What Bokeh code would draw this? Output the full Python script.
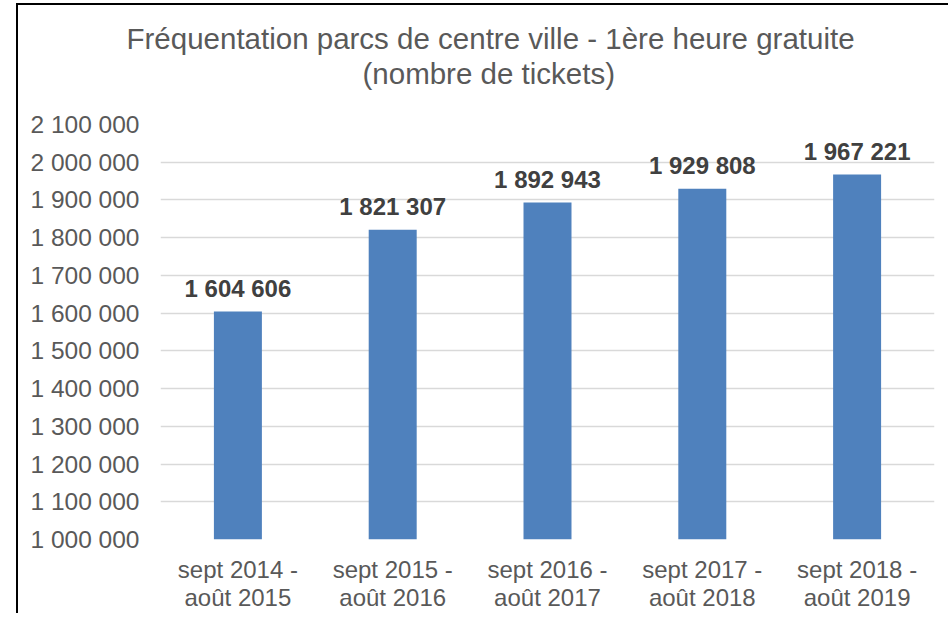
from bokeh.plotting import figure
from bokeh.models import FixedTicker, ColumnDataSource, Title
from bokeh.core.properties import value
from bokeh.embed import file_html
from bokeh.resources import INLINE

# ---- data ----
periods = [
    "sept 2014 -\naoût 2015",
    "sept 2015 -\naoût 2016",
    "sept 2016 -\naoût 2017",
    "sept 2017 -\naoût 2018",
    "sept 2018 -\naoût 2019",
]
tickets = [1604606, 1821307, 1892943, 1929808, 1967221]
value_labels = ["1 604 606", "1 821 307", "1 892 943", "1 929 808", "1 967 221"]
y_ticks = [1000000, 1100000, 1200000, 1300000, 1400000, 1500000,
           1600000, 1700000, 1800000, 1900000, 2000000, 2100000]
y_tick_labels = ["1 000 000", "1 100 000", "1 200 000", "1 300 000", "1 400 000",
                 "1 500 000", "1 600 000", "1 700 000", "1 800 000", "1 900 000",
                 "2 000 000", "2 100 000"]
title_lines = ["Fréquentation parcs de centre ville - 1ère heure gratuite",
               "(nombre de tickets)"]

FONT = "Liberation Sans"
GREY = "#595959"

source = ColumnDataSource(dict(period=periods, tickets=tickets, label=value_labels))

p = figure(
    title=None,
    x_range=periods, y_range=(y_ticks[0], y_ticks[-1]),
    width=932, height=610,
    output_backend="svg", toolbar_location=None,
    min_border_left=142, min_border_right=16,
    min_border_top=119, min_border_bottom=76,
    margin=(3, 0, 0, 16),
    styles={"border-top": "2px solid #000", "border-left": "2px solid #000"},
)
p.outline_line_color = None
p.background_fill_color = "white"
p.border_fill_color = "white"

p.vbar(x="period", top="tickets", width=0.31, source=source,
       fill_color="#4f81bd", line_color=None)

p.text(x="period", y="tickets", text="label", source=source,
       text_align="center", text_baseline="alphabetic", y_offset=-23,
       text_font=value(FONT), text_font_style="bold",
       text_font_size=value("24px"), text_color="#404040")

ticker = FixedTicker(ticks=y_ticks)
p.yaxis.ticker = ticker
p.ygrid.ticker = ticker
p.yaxis.major_label_overrides = {t: l for t, l in zip(y_ticks, y_tick_labels)}
p.yaxis.axis_line_color = None
p.yaxis.major_tick_line_color = None
p.yaxis.minor_tick_line_color = None
p.yaxis.major_tick_out = 0
p.yaxis.major_tick_in = 0
p.yaxis.major_label_standoff = 21
p.yaxis.major_label_text_font = FONT
p.yaxis.major_label_text_font_size = "24.5px"
p.yaxis.major_label_text_color = GREY

p.xaxis.axis_line_color = None
p.xaxis.major_tick_line_color = None
p.xaxis.minor_tick_line_color = None
p.xaxis.major_tick_out = 0
p.xaxis.major_tick_in = 0
p.xaxis.major_label_standoff = 16
p.xaxis.major_label_text_font = FONT
p.xaxis.major_label_text_font_size = "24px"
p.xaxis.major_label_text_color = GREY
p.xaxis.major_label_text_line_height = 1.05

p.xgrid.grid_line_color = None
p.ygrid.grid_line_color = "#d9d9d9"
p.ygrid.grid_line_width = 1.5

# spacer between the frame and the title block (closest to the frame first)
p.add_layout(Title(text=" ", standoff=32, text_font_size="1px"), "above")
for txt, off in [(title_lines[1], 202), (title_lines[0], -34)]:
    p.add_layout(Title(text=txt, align="left", offset=off, standoff=0,
                       text_font=FONT, text_font_size="29.5px",
                       text_font_style="normal", text_color=GREY), "above")

open("out.html", "w").write(file_html(p, INLINE))
